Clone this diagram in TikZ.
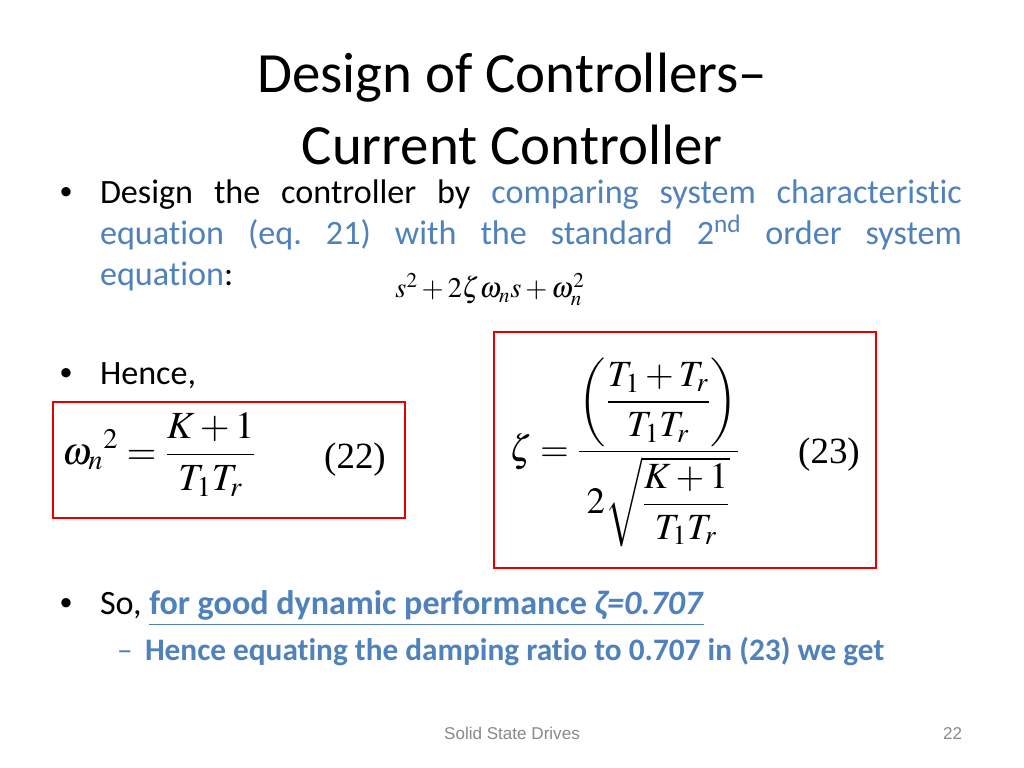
\documentclass[tikz,border=0pt]{standalone}
\usepackage{amsmath}
\usepackage{mathptmx}
\usepackage[no-math]{fontspec}
\setmainfont{Carlito}[Ligatures={TeX,CommonOff}]
\newfontfamily\footfont{Liberation Sans}
\newfontfamily\tagfont{Liberation Serif}
\usetikzlibrary{positioning}
\definecolor{slideblue}{RGB}{79,129,189}
\definecolor{boxred}{RGB}{232,0,0}
\definecolor{footgray}{RGB}{137,137,137}
\setlength{\parindent}{0pt}
\frenchspacing

\begin{document}
\begin{tikzpicture}[x=0.703125pt, y=-0.703125pt,
    every node/.style={inner sep=0pt, outer sep=0pt},
    titletext/.style={font=\fontsize{40}{48}\selectfont, anchor=base},
    bodytext/.style={font=\fontsize{24}{29}\selectfont, anchor=base west},
    bullettext/.style={font=\fontsize{24}{29}\footfont, anchor=base west},
    subtext/.style={font=\fontsize{22}{26}\selectfont\bfseries, text=slideblue, anchor=base west},
    mathtext/.style={font=\fontsize{27}{32}\selectfont, anchor=base west},
    tagtext/.style={font=\fontsize{26}{30}\tagfont},
    eqbox/.style={draw=boxred, line width=2pt, rectangle},
    foottext/.style={font=\fontsize{12}{14}\selectfont\footfont, text=footgray, anchor=base}
]
    \useasboundingbox[fill=white] (0,0) rectangle (1024,768);

    % title
    \node (title_top) [titletext] at (512,93) {Design of Controllers--};
    \node (title_bottom) [titletext] at (512,165) {Current Controller};

    % first bullet
    \node (bullet_design) [bullettext] at (60,204) {•};
    \node (design_text) [bodytext] at (100,204)
    {
        \makebox[606pt][s]{Design the controller by \textcolor{slideblue}{comparing system characteristic}}
    };
    \node (design_text_b) [bodytext] at (100,245)
    {
        \makebox[606pt][s]{\textcolor{slideblue}{equation (eq. 21) with the standard 2\textsuperscript{nd} order system}}
    };
    \node (equation_text) [bodytext] at (100,286) {\textcolor{slideblue}{equation}:};
    \node (std_eq) [font=\fontsize{20}{24}\selectfont, anchor=base] at (490,298)
    {
        $s^2+2\zeta\omega_n s+\omega_n^2$
    };

    % second bullet
    \node (bullet_hence) [bullettext] at (60,384) {•};
    \node (hence_text) [bodytext] at (100,384) {Hence,};

    \node (box_omega) [eqbox, minimum width=247.5pt, minimum height=81.6pt] at (229,460) {};
    \node (omega_eq) [mathtext] at (62,464)
    {
        $\displaystyle {\omega_n}^{2} = \frac{K+1}{T_1T_r}$
    };
    \node (omega_tag) [tagtext] at (355,460) {(22)};

    \node (box_zeta) [eqbox, minimum width=268.6pt, minimum height=165.9pt] at (685,450) {};
    \node (zeta_eq) [mathtext, font=\fontsize{26}{31}\selectfont] at (509,461)
    {
        $\displaystyle \zeta = \frac{\left(\dfrac{T_1+T_r}{T_1T_r}\right)}{2\sqrt{\dfrac{K+1}{T_1T_r}}}$
    };
    \node (zeta_tag) [tagtext] at (829,455) {(23)};

    % third bullet
    \node (bullet_so) [bullettext] at (60,614) {•};
    \node (so_text) [bodytext] at (100,614)
    {
        So, \textcolor{slideblue}{\bfseries\underline{for good dynamic performance \textit{ζ=0.707}}}
    };
    \node (dash_sub) [subtext, font=\fontsize{22}{26}\selectfont] at (117,660) {–};
    \node (sub_text) [subtext] at (145,660) {Hence equating the damping ratio to 0.707 in (23) we get};

    % footer
    \node (footer_name) [foottext] at (512,739) {Solid State Drives};
    \node (footer_page) [foottext, anchor=base east] at (962,739) {22};
\end{tikzpicture}
\end{document}
